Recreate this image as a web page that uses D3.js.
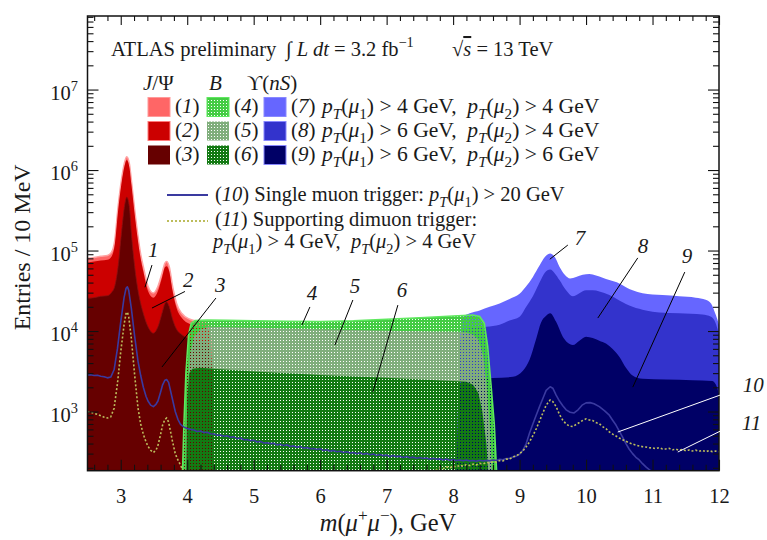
<!DOCTYPE html>
<html>
<head>
<meta charset="utf-8">
<script src="https://cdn.jsdelivr.net/npm/d3@7"></script>
<style>
  body { margin: 0; background: #fff; }
  svg text { font-family: "Liberation Serif", "DejaVu Serif", serif; fill: #1a1a1a; white-space: pre; }
</style>
</head>
<body>
<svg id="chart" width="767" height="540"></svg>
<script>
  // ---- data: [mass in GeV, entries / 10 MeV] ----
  const jpsi1 = [[2.5,8.0e4],[2.6,8.2e4],[2.7,8.5e4],[2.8,8.7e4],[2.86,9.5e4],[2.91,1.34e5],[2.96,3.5e5],[3.01,7.5e5],[3.06,1.27e6],[3.09,1.46e6],[3.13,1.2e6],[3.16,7.5e5],[3.21,3.2e5],[3.26,1.5e5],[3.3,9e4],[3.34,6.3e4],[3.41,3.6e4],[3.49,2.96e4],[3.56,3.6e4],[3.62,5.2e4],[3.665,7e4],[3.69,7.3e4],[3.73,6.3e4],[3.78,3.6e4],[3.84,2.2e4],[3.92,1.65e4],[4.04,1.4e4],[4.2,1.3e4],[4.3,1.25e4],[4.35,9000],[4.38,2000],[4.4,100]];
  const jpsi2 = [[2.5,7.1e4],[2.6,7.3e4],[2.7,7.5e4],[2.8,7.7e4],[2.86,8.4e4],[2.91,1.18e5],[2.96,3.1e5],[3.01,6.7e5],[3.06,1.15e6],[3.09,1.33e6],[3.13,1.08e6],[3.16,6.7e5],[3.21,2.8e5],[3.26,1.3e5],[3.3,7.9e4],[3.34,5.5e4],[3.41,3.15e4],[3.49,2.6e4],[3.56,3.15e4],[3.62,4.6e4],[3.665,6.2e4],[3.69,6.4e4],[3.73,5.5e4],[3.78,3.15e4],[3.84,1.93e4],[3.92,1.45e4],[4.04,1.22e4],[4.2,1.13e4],[4.3,1.08e4],[4.35,7800],[4.38,1800],[4.4,100]];
  const jpsi3 = [[2.5,2.55e4],[2.6,2.6e4],[2.7,2.7e4],[2.8,2.75e4],[2.86,3e4],[2.91,3.6e4],[2.96,6.3e4],[3.01,1.63e5],[3.06,3.7e5],[3.09,4.6e5],[3.13,3.5e5],[3.16,1.63e5],[3.21,6.3e4],[3.26,3.2e4],[3.3,2.2e4],[3.34,1.65e4],[3.41,1.13e4],[3.49,9.4e3],[3.56,1.13e4],[3.62,1.65e4],[3.665,2.2e4],[3.69,2.3e4],[3.73,2.0e4],[3.78,1.4e4],[3.84,1.05e4],[3.92,9e3],[4.04,8e3],[4.2,7.3e3],[4.3,7e3],[4.35,5000],[4.38,1500],[4.4,100]];

  const bMeson4 = [[3.92,100],[3.95,700],[3.98,3000],[4.02,9000],[4.06,1.25e4],[4.12,1.35e4],[4.3,1.37e4],[4.6,1.36e4],[5.0,1.34e4],[5.5,1.32e4],[6.0,1.31e4],[6.5,1.34e4],[7.0,1.4e4],[7.5,1.46e4],[8.0,1.54e4],[8.3,1.58e4],[8.4,1.52e4],[8.47,1.25e4],[8.52,6500],[8.57,2200],[8.62,700],[8.67,100]];
  const bMeson5 = [[3.97,100],[4.0,1500],[4.04,5000],[4.1,8500],[4.2,1.05e4],[4.32,1.13e4],[5.0,1.1e4],[6.0,1.05e4],[7.0,1.01e4],[8.0,9.8e3],[8.2,9.6e3],[8.3,9.0e3],[8.38,7800],[8.45,5000],[8.5,2200],[8.55,700],[8.6,100]];
  const bMeson6 = [[3.98,100],[4.0,1500],[4.03,3000],[4.08,3400],[4.2,3500],[4.5,3350],[5.0,3150],[5.5,2980],[6.0,2850],[6.5,2730],[7.0,2620],[7.5,2500],[8.0,2400],[8.2,2350],[8.3,2150],[8.38,1700],[8.44,1000],[8.5,400],[8.55,100]];

  const upsilon7 = [[8.05,100],[8.1,8000],[8.15,1.5e4],[8.25,1.66e4],[8.4,1.8e4],[8.55,2e4],[8.7,2.2e4],[8.85,2.5e4],[9.0,2.9e4],[9.1,3.6e4],[9.2,4.7e4],[9.3,6.5e4],[9.38,8.3e4],[9.46,9.2e4],[9.53,8.3e4],[9.6,6.3e4],[9.68,5e4],[9.76,4.5e4],[9.85,4.7e4],[9.95,5e4],[10.05,5.1e4],[10.15,4.9e4],[10.25,4.6e4],[10.35,4.3e4],[10.5,3.9e4],[10.6,3.5e4],[10.7,3.2e4],[10.85,2.95e4],[11.0,2.85e4],[11.15,2.8e4],[11.4,2.7e4],[11.65,2.6e4],[11.8,2.45e4],[11.88,2.2e4],[11.95,1.6e4],[12.0,1.2e4]];
  const upsilon8 = [[8.05,100],[8.1,6000],[8.15,1e4],[8.3,1.1e4],[8.5,1.13e4],[8.7,1.2e4],[8.85,1.35e4],[9.0,1.5e4],[9.1,2e4],[9.2,2.7e4],[9.3,4e4],[9.38,5.3e4],[9.46,5.8e4],[9.53,5.2e4],[9.6,4.3e4],[9.7,3.2e4],[9.8,2.7e4],[9.9,2.95e4],[10.0,3.2e4],[10.1,3.2e4],[10.2,3.1e4],[10.35,2.8e4],[10.5,2.4e4],[10.7,2e4],[10.9,1.8e4],[11.1,1.7e4],[11.4,1.66e4],[11.75,1.6e4],[11.88,1.5e4],[11.95,1.25e4],[12.0,9000]];
  const upsilon9 = [[8.05,100],[8.1,2000],[8.15,2450],[8.3,2500],[8.6,2600],[8.9,2700],[9.05,3200],[9.15,4400],[9.25,8000],[9.32,1.26e4],[9.4,1.55e4],[9.46,1.66e4],[9.55,1.3e4],[9.65,8.5e3],[9.72,7.2e3],[9.8,6.7e3],[9.9,7.6e3],[10.0,8.5e3],[10.1,8.2e3],[10.2,7.6e3],[10.3,7e3],[10.4,6e3],[10.5,4.8e3],[10.6,3.5e3],[10.7,2.8e3],[10.85,2.55e3],[11.2,2.5e3],[11.6,2.45e3],[11.9,2.4e3],[11.97,2e3],[12.0,1.6e3]];

  // (10) single muon trigger
  const singleMuon = [[2.5,2840],[2.55,2860],[2.6,2800],[2.65,2820],[2.7,2750],[2.75,2700],[2.8,2620],[2.85,2680],[2.9,3300],[2.95,6000],[3.0,1.3e4],[3.05,2.6e4],[3.08,3.4e4],[3.1,3.55e4],[3.12,3.2e4],[3.16,1.9e4],[3.21,8500],[3.26,4200],[3.3,2800],[3.34,2000],[3.38,1550],[3.41,1350],[3.45,1200],[3.49,1150],[3.53,1230],[3.56,1350],[3.6,1750],[3.63,2150],[3.665,2450],[3.69,2500],[3.72,2300],[3.75,1800],[3.78,1400],[3.82,1000],[3.86,800],[3.9,690],[3.95,640],
    [4.0,615],[4.05,600],[4.1,590],[4.15,565],[4.2,572],[4.25,548],[4.3,553],[4.35,530],[4.4,526],[4.45,507],[4.5,512],[4.55,492],[4.6,501],[4.65,478],[4.7,484],[4.75,461],[4.8,468],[4.85,446],[4.9,450],[4.95,433],[5.0,441],[5.05,418],[5.1,426],[5.15,406],[5.2,410],[5.25,399],[5.3,404],[5.35,385],[5.4,393],[5.45,377],[5.5,386],[5.55,367],[5.6,374],[5.65,361],[5.7,368],[5.75,351],[5.8,358],[5.85,345],[5.9,348],[5.95,337],[6.0,344],[6.05,327],[6.1,335],[6.15,321],[6.2,329],[6.25,317],[6.3,321],[6.35,309],[6.4,317],[6.45,305],[6.5,310],[6.55,299],[6.6,307],[6.65,295],[6.7,302],[6.75,291],[6.8,296],[6.85,285],[6.9,293],[6.95,283],[7.0,287],[7.05,277],[7.1,285],[7.15,275],[7.2,279],[7.25,269],[7.3,277],[7.35,267],[7.4,271],[7.45,262],[7.5,269],[7.55,261],[7.6,264],[7.65,256],[7.7,263],[7.75,255],[7.8,258],[7.85,250],[7.9,257],[7.95,248],[8.0,254],[8.05,246],[8.1,250],[8.15,244],[8.2,250],[8.25,243],[8.3,247],[8.35,241],[8.4,248],[8.45,243],[8.5,247],[8.55,245],[8.6,250],[8.65,246],[8.7,255],[8.75,251],[8.8,261],[8.85,262],[8.9,273],[8.95,279],[9.0,295],
    [9.05,330],[9.1,400],[9.15,540],[9.2,700],[9.25,900],[9.3,1150],[9.35,1450],[9.4,1830],[9.46,2030],[9.5,1950],[9.55,1600],[9.6,1350],[9.65,1180],[9.7,1050],[9.76,980],[9.82,960],[9.88,1050],[9.94,1200],[10.0,1280],[10.06,1290],[10.12,1250],[10.2,1150],[10.28,1020],[10.35,900],[10.4,780],[10.45,680],[10.5,570],[10.55,480],[10.6,400],[10.65,340],[10.7,300],[10.75,270],[10.8,250],[10.85,225],[10.9,205],[10.95,190],[11.0,175],[11.05,160]];
  // (11) supporting dimuon trigger
  const dimuon = [[2.5,1000],[2.55,980],[2.6,950],[2.65,920],[2.7,885],[2.75,850],[2.8,830],[2.85,860],[2.9,1100],[2.95,2200],[3.0,5500],[3.05,1.2e4],[3.08,1.65e4],[3.1,1.72e4],[3.12,1.5e4],[3.16,8000],[3.21,2800],[3.26,1100],[3.3,700],[3.34,520],[3.38,420],[3.41,370],[3.45,330],[3.49,310],[3.53,330],[3.56,380],[3.6,520],[3.63,680],[3.665,800],[3.69,830],[3.72,740],[3.75,560],[3.78,420],[3.82,300],[3.86,250],[3.9,215],[3.93,190],[3.96,120],
    [7.7,120],[7.75,190],[7.8,200],[7.85,195],[7.9,205],[7.95,199],[8.0,210],[8.05,204],[8.1,215],[8.15,209],[8.2,219],[8.25,213],[8.3,223],[8.35,217],[8.4,227],[8.45,223],[8.5,233],[8.55,229],[8.6,239],[8.65,235],[8.7,246],[8.75,243],[8.8,256],[8.85,257],[8.9,273],[8.95,281],[9.0,300],[9.05,325],[9.1,365],[9.15,420],[9.2,500],[9.25,610],[9.3,760],[9.35,960],[9.4,1200],[9.46,1390],[9.5,1330],[9.55,1150],[9.6,920],[9.65,780],[9.7,700],[9.75,660],[9.8,650],[9.85,690],[9.9,730],[9.95,775],[10.0,810],[10.05,785],[10.1,772],[10.15,728],[10.2,705],[10.25,648],[10.3,612],[10.35,558],[10.4,523],[10.45,497],[10.5,468],[10.55,447],[10.6,427],[10.65,408],[10.7,394],[10.75,383],[10.8,374],[10.85,366],[10.9,362],[10.95,354],[11.0,353],[11.05,346],[11.1,355],[11.15,343],[11.2,343],[11.25,349],[11.3,335],[11.35,341],[11.4,330],[11.45,337],[11.5,325],[11.55,333],[11.6,323],[11.65,331],[11.7,321],[11.75,329],[11.8,317],[11.85,326],[11.9,318],[11.95,323],[12.0,316]];

  const xTicks = [3, 4, 5, 6, 7, 8, 9, 10, 11, 12];
  const yTicks = [1e3, 1e4, 1e5, 1e6, 1e7];

  // callouts: label position (left, baseline) and leader line, in data coordinates
  const callouts = [
    {label: '1', at: [3.41, 8.3e4], from: [3.47, 6.6e4], to: [3.365, 3.5e4], color: '#000'},
    {label: '2', at: [3.936, 3.5e4], from: [3.966, 3.1e4], to: [3.47, 1.93e4], color: '#000'},
    {label: '3', at: [4.417, 3.05e4], from: [4.432, 2.57e4], to: [3.62, 3.57e3], color: '#000'},
    {label: '4', at: [5.8, 2.43e4], from: [5.846, 1.99e4], to: [5.726, 1.19e4], color: '#000'},
    {label: '5', at: [6.447, 2.97e4], from: [6.492, 2.43e4], to: [6.222, 6.7e3], color: '#000'},
    {label: '6', at: [7.154, 2.64e4], from: [7.169, 2.1e4], to: [6.793, 1.75e3], color: '#000'},
    {label: '7', at: [9.83, 1.17e5], from: [9.726, 1.17e5], to: [9.455, 7.8e4], color: '#000'},
    {label: '8', at: [10.778, 9.3e4], from: [10.778, 8.1e4], to: [10.177, 1.45e4], color: '#000'},
    {label: '9', at: [11.44, 7e4], from: [11.485, 5.4e4], to: [10.703, 2.01e3], color: '#000'},
    {label: '10', at: [12.357, 1.75e3], from: [12.312, 1.96e3], to: [10.477, 556], color: '#fff'},
    {label: '11', at: [12.342, 589], from: [12.267, 720], to: [11.38, 314], color: '#fff'}
  ];

  const colors = {
    j1: '#ff6666', j2: '#cc0000', j3: '#660000',
    b4: '#44cc44', b5: '#80ae7c', b6: '#137a13',
    u7: '#6666ff', u8: '#3333cc', u9: '#000066',
    single: '#3a3aa0', dimuon: '#bdbd5c'
  };

  const svg = d3.select('#chart');
  const plot = {left: 87.5, top: 16, right: 719, bottom: 470.7};
  const x = d3.scaleLinear().domain([2.5, 12]).range([plot.left, plot.right]);
  const y = d3.scaleLog().domain([184, 8.2e7]).range([plot.bottom, plot.top]);

  const defs = svg.append('defs');
  defs.append('clipPath').attr('id', 'plotClip')
    .append('rect')
    .attr('x', plot.left).attr('y', plot.top)
    .attr('width', plot.right - plot.left).attr('height', plot.bottom - plot.top);

  // dotted fills: solid colour with a transparent pin-hole every 3px
  ['b4', 'b5', 'b6'].forEach(k => {
    defs.append('pattern').attr('id', 'dots-' + k)
      .attr('patternUnits', 'userSpaceOnUse').attr('width', 3).attr('height', 3)
      .append('path')
      .attr('d', 'M0,0H3V3H0Z M1,1V2H2V1Z')
      .attr('fill-rule', 'evenodd')
      .attr('fill', colors[k]);
  });

  const area = d3.area()
    .x(d => x(d[0]))
    .y0(plot.bottom)
    .y1(d => y(d[1]));
  const line = d3.line()
    .x(d => x(d[0]))
    .y(d => y(d[1]));

  const data = svg.append('g').attr('clip-path', 'url(#plotClip)');

  // J/psi
  data.append('path').datum(jpsi1).attr('fill', colors.j1).attr('d', area.curve(d3.curveMonotoneX));
  data.append('path').datum(jpsi1).attr('fill', 'none').attr('stroke', '#ffa3a3').attr('stroke-width', 1.5)
    .attr('d', line.curve(d3.curveMonotoneX));
  data.append('path').datum(jpsi2).attr('fill', colors.j2).attr('d', area);
  data.append('path').datum(jpsi3).attr('fill', colors.j3).attr('stroke', '#8a1010').attr('stroke-width', 0.8).attr('d', area);

  // Upsilon
  area.curve(d3.curveMonotoneX);
  data.append('path').datum(upsilon7).attr('fill', colors.u7).attr('d', area);
  data.append('path').datum(upsilon8).attr('fill', colors.u8).attr('d', area);
  data.append('path').datum(upsilon9).attr('fill', colors.u9).attr('d', area);

  // B mesons
  area.curve(d3.curveLinear);
  data.append('path').datum(bMeson4).attr('fill', 'url(#dots-b4)').attr('stroke', '#5fe85f').attr('stroke-width', 1.5).attr('d', area);
  data.append('path').datum(bMeson5).attr('fill', 'url(#dots-b5)').attr('d', area);
  data.append('path').datum(bMeson6).attr('fill', 'url(#dots-b6)').attr('d', area);

  // trigger lines
  line.curve(d3.curveLinear);
  data.append('path').datum(singleMuon).attr('fill', 'none').attr('stroke', colors.single)
    .attr('stroke-width', 1.6).attr('stroke-linejoin', 'round').attr('d', line);
  data.append('path').datum(dimuon).attr('fill', 'none').attr('stroke', colors.dimuon)
    .attr('stroke-width', 1.6).attr('stroke-dasharray', '2,2').attr('d', line);

  // ---- axes ----
  const xMinor = d3.range(2.6, 12.01, 0.2).filter(v => Math.abs(v - Math.round(v)) > 0.05);
  const yMinor = [];
  for (let e = 2; e <= 7; e++) for (let k = 2; k <= 9; k++) {
    const v = k * Math.pow(10, e);
    if (v > 184 && v < 8.2e7) yMinor.push(v);
  }
  function axisGroup(axis, tx, ty) {
    const g = svg.append('g').attr('transform', `translate(${tx},${ty})`).call(axis);
    g.select('.domain').remove();
    g.selectAll('line').attr('stroke', '#111').attr('stroke-width', 1.1);
    return g;
  }
  const xb = axisGroup(d3.axisBottom(x).tickValues(xTicks).tickSizeInner(-11).tickSizeOuter(0).tickPadding(18).tickFormat(d3.format('d')), 0, plot.bottom);
  xb.selectAll('text').attr('font-size', 20.5).attr('font-family', '"Liberation Serif", serif').attr('fill', '#1a1a1a');
  axisGroup(d3.axisBottom(x).tickValues(xMinor).tickSizeInner(-6).tickSizeOuter(0).tickFormat(''), 0, plot.bottom);
  axisGroup(d3.axisTop(x).tickValues(xTicks).tickSizeInner(-9).tickSizeOuter(0).tickFormat(''), 0, plot.top);
  axisGroup(d3.axisTop(x).tickValues(xMinor).tickSizeInner(-5).tickSizeOuter(0).tickFormat(''), 0, plot.top);
  axisGroup(d3.axisLeft(y).tickValues(yTicks).tickSizeInner(-11).tickSizeOuter(0).tickFormat(''), plot.left, 0);
  axisGroup(d3.axisLeft(y).tickValues(yMinor).tickSizeInner(-6).tickSizeOuter(0).tickFormat(''), plot.left, 0);
  axisGroup(d3.axisRight(y).tickValues(yTicks).tickSizeInner(-11).tickSizeOuter(0).tickFormat(''), plot.right, 0);
  axisGroup(d3.axisRight(y).tickValues(yMinor).tickSizeInner(-6).tickSizeOuter(0).tickFormat(''), plot.right, 0);

  // rich text helper: parts = [[text, flags]] flags: i italic, b subscript, p superscript, o overline
  function rich(sel, tx, ty, parts, size, anchor) {
    const t = sel.append('text').attr('x', tx).attr('y', ty).attr('font-size', size);
    if (anchor) t.attr('text-anchor', anchor);
    let shift = 0;
    parts.forEach(([s, f]) => {
      const sub = f.includes('b'), sup = f.includes('p');
      const ns = sub ? 0.28 * size : sup ? -0.42 * size : 0;
      const ts = t.append('tspan').text(s).attr('dy', ns - shift);
      if (sub || sup) ts.attr('font-size', size * 0.7);
      if (f.includes('i')) ts.attr('font-style', 'italic');
      if (f.includes('o')) ts.attr('text-decoration', 'overline');
      shift = ns;
    });
    return t;
  }

  const labels = svg.append('g');
  yTicks.forEach(v => {
    rich(labels, plot.left - 9.5, y(v) + 10, [['10', ''], [String(Math.round(Math.log10(v))), 'p']], 20.5, 'end');
  });

  // frame
  svg.append('rect')
    .attr('x', plot.left).attr('y', plot.top)
    .attr('width', plot.right - plot.left).attr('height', plot.bottom - plot.top)
    .attr('fill', 'none').attr('stroke', '#111').attr('stroke-width', 1.5);

  // axis titles
  rich(labels, 388, 531, [['m', 'i'], ['(', ''], ['μ', 'i'], ['+', 'p'], ['μ', 'i'], ['−', 'p'], ['), GeV', '']], 24.5, 'middle');
  labels.append('text')
    .attr('transform', `translate(30,${(plot.top + plot.bottom) / 2 + 4}) rotate(-90)`)
    .attr('text-anchor', 'middle').attr('font-size', 24)
    .text('Entries / 10 MeV');

  // ---- header and legend ----
  const leg = svg.append('g');
  rich(leg, 111, 56, [['ATLAS preliminary', '']], 20.6);
  rich(leg, 286, 56, [['∫', ''], [' L', 'i'], [' dt', 'i'], [' = 3.2 fb', ''], ['−1', 'p']], 20.5);
  rich(leg, 452, 56, [['√', ''], ['s', 'io'], [' = 13 TeV', '']], 20.5);

  rich(leg, 143, 90, [['J', 'i'], ['/Ψ', '']], 21);
  rich(leg, 209, 90, [['B', 'i']], 21);
  rich(leg, 247, 90, [['ϒ', ''], ['(', ''], ['nS', 'i'], [')', '']], 21);

  const cond = (a, b) => [['p', 'i'], ['T', 'ib'], ['(', ''], ['μ', 'i'], ['1', 'b'], [`) > ${a} GeV,  `, ''],
                          ['p', 'i'], ['T', 'ib'], ['(', ''], ['μ', 'i'], ['2', 'b'], [`) > ${b} GeV`, '']];
  const legendRows = [
    {keys: ['j1', 'b4', 'u7'], nums: ['1', '4', '7'], text: cond(4, 4)},
    {keys: ['j2', 'b5', 'u8'], nums: ['2', '5', '8'], text: cond(6, 4)},
    {keys: ['j3', 'b6', 'u9'], nums: ['3', '6', '9'], text: cond(6, 6)}
  ];
  const colX = [148, 207, 264];
  legendRows.forEach((row, i) => {
    const base = 113 + i * 24;
    row.keys.forEach((k, j) => {
      const fill = k.startsWith('b') ? `url(#dots-${k})` : colors[k];
      const stroke = k === 'j1' ? '#ff9a9a' : k === 'j2' ? '#ff7a7a' : k === 'b4' ? '#5fe85f' : k.startsWith('u') ? '#8888ff' : 'none';
      leg.append('rect').attr('x', colX[j]).attr('y', base - 15.5).attr('width', 22).attr('height', 19)
        .attr('fill', fill).attr('stroke', stroke).attr('stroke-width', 1);
      rich(leg, colX[j] + 27, base, [['(', ''], [row.nums[j], 'i'], [')', '']], 21);
    });
    rich(leg, 322, base, row.text, 21.6);
  });

  leg.append('line').attr('x1', 167).attr('x2', 208).attr('y1', 195).attr('y2', 195)
    .attr('stroke', colors.single).attr('stroke-width', 1.8);
  rich(leg, 215, 201, [['(', ''], ['10', 'i'], [') Single muon trigger: ', ''], ['p', 'i'], ['T', 'ib'], ['(', ''], ['μ', 'i'], ['1', 'b'], [') > 20 GeV', '']], 20.5);
  leg.append('line').attr('x1', 167).attr('x2', 208).attr('y1', 221).attr('y2', 221)
    .attr('stroke', colors.dimuon).attr('stroke-width', 1.8).attr('stroke-dasharray', '2,2');
  rich(leg, 215, 226, [['(', ''], ['11', 'i'], [') Supporting dimuon trigger:', '']], 20.5);
  rich(leg, 213, 248, cond(4, 4), 20.5);

  // ---- callouts ----
  const ann = svg.append('g');
  callouts.forEach(c => {
    ann.append('line')
      .attr('x1', x(c.from[0])).attr('y1', y(c.from[1]))
      .attr('x2', x(c.to[0])).attr('y2', y(c.to[1]))
      .attr('stroke', c.color).attr('stroke-width', 1);
    ann.append('text').attr('x', x(c.at[0])).attr('y', y(c.at[1]))
      .attr('font-size', 21).attr('font-style', 'italic').text(c.label);
  });
</script>
</body>
</html>
